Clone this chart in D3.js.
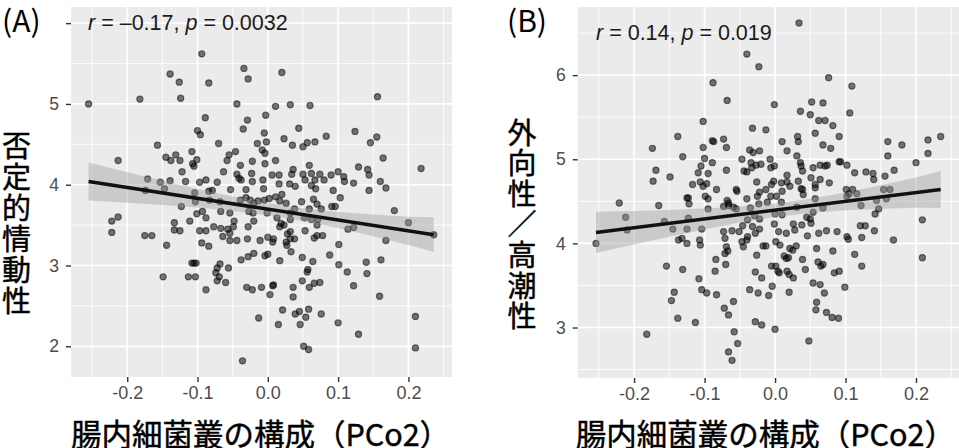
<!DOCTYPE html>
<html><head><meta charset="utf-8">
<script src="https://cdn.jsdelivr.net/npm/d3@7"></script>
<style>html,body{margin:0;padding:0;background:#fff;}svg{display:block;}</style>
</head><body><svg id="c" width="959" height="448"></svg>
<script>
// ---------- DATA ----------
const panelLabels = ["(A)", "(B)"];
const xTitle = "腸内細菌叢の構成（PCo2）";
const yTitleA = ["否","定","的","情","動","性"];
const yTitleB = ["外","向","性","／","高","潮","性"];
const statA = {r: "–0.17", p: "0.0032"};
const statB = {r: "0.14", p: "0.019"};
const xTicks = [-0.2, -0.1, 0, 0.1, 0.2];
const xTickLabels = ["-0.2", "-0.1", "0.0", "0.1", "0.2"];
const xMinor = [-0.25, -0.15, -0.05, 0.05, 0.15, 0.25];
const yTicksA = [2, 3, 4, 5, 6];
const yTickLabelsA = ["2", "3", "4", "5", ""];
const yMinorA = [2.5, 3.5, 4.5, 5.5];
const yTicksB = [3, 4, 5, 6];
const yTickLabelsB = ["3", "4", "5", "6"];
const yMinorB = [2.5, 3.5, 4.5, 5.5, 6.5];

const pointsA = [
[-0.094,5.62],[-0.139,5.37],[-0.126,5.27],[-0.084,5.26],[-0.124,5.07],[-0.182,5.06],[-0.255,5.00],[-0.034,5.44],
[-0.028,5.31],[0.020,5.39],[-0.044,5.00],[0.011,4.97],[0.032,4.99],[0.060,4.98],[0.156,5.09],[-0.089,4.83],
[-0.029,4.80],[-0.003,4.86],[-0.035,4.69],[-0.100,4.67],[-0.096,4.62],[-0.005,4.64],[0.044,4.70],[0.023,4.57],
[-0.002,4.53],[-0.015,4.51],[0.035,4.49],[0.050,4.47],[0.056,4.52],[0.067,4.53],[0.083,4.60],[0.124,4.66],
[0.155,4.59],[0.146,4.52],[0.164,4.33],[0.218,4.20],[-0.157,4.49],[-0.213,4.30],[-0.145,4.34],[-0.138,4.30],
[-0.131,4.37],[-0.125,4.30],[-0.108,4.41],[-0.101,4.31],[-0.107,4.26],[-0.105,4.23],[-0.122,4.16],[-0.139,4.05],
[-0.153,4.03],[-0.171,4.07],[-0.147,3.95],[-0.174,3.93],[-0.117,4.04],[-0.097,4.03],[-0.088,4.06],[-0.072,4.03],
[-0.063,4.16],[-0.058,4.30],[-0.055,4.37],[-0.046,4.41],[-0.039,4.24],[-0.022,4.29],[-0.004,4.39],[-0.004,4.26],
[0.011,4.30],[-0.070,4.51],[-0.044,4.13],[-0.041,4.08],[-0.038,4.06],[-0.023,4.14],[-0.022,4.04],[-0.007,4.06],
[0.006,4.12],[0.016,4.12],[0.016,4.01],[0.031,4.01],[0.034,4.13],[0.036,4.19],[0.050,4.13],[0.053,4.06],
[0.059,4.24],[0.062,4.14],[0.067,4.06],[0.068,3.95],[0.074,4.13],[0.080,4.06],[0.090,4.12],[0.100,4.16],
[0.108,4.10],[0.109,4.04],[0.122,4.02],[0.129,4.22],[0.142,4.19],[0.144,4.12],[0.144,3.93],[0.160,4.04],
[0.168,3.96],[0.180,3.68],[0.200,3.53],[0.093,3.93],[0.103,3.84],[-0.104,3.90],[-0.103,3.79],[-0.101,3.64],
[-0.093,3.67],[-0.084,3.92],[-0.083,3.81],[-0.068,3.79],[-0.067,3.67],[-0.054,3.65],[-0.053,3.94],[-0.039,3.81],
[-0.031,3.84],[-0.025,3.81],[-0.027,3.67],[-0.005,3.81],[0.002,3.83],[0.011,3.85],[0.017,3.80],[0.020,3.88],
[0.026,3.77],[0.013,3.59],[0.032,3.65],[0.038,3.70],[0.048,3.79],[0.052,3.59],[0.059,3.70],[0.070,3.76],
[0.076,3.70],[0.091,3.73],[0.096,3.73],[-0.213,3.60],[-0.222,3.55],[-0.133,3.53],[-0.111,3.55],[-0.079,3.93],
[-0.014,3.80],[-0.001,3.65],[0.071,3.57],[-0.020,3.55],[-0.048,3.55],[0.065,3.82],[0.032,3.57],[0.062,3.57],
[-0.123,3.73],[-0.088,3.59],[-0.020,3.77],[-0.021,3.65],[-0.222,3.41],[-0.175,3.37],[-0.165,3.37],[-0.144,3.25],
[-0.133,3.44],[-0.125,3.43],[-0.097,3.43],[-0.088,3.43],[-0.094,3.28],[-0.084,3.24],[-0.077,3.48],[-0.067,3.46],
[-0.064,3.36],[-0.054,3.31],[-0.044,3.31],[-0.049,3.48],[-0.028,3.48],[-0.029,3.33],[-0.011,3.31],[0.000,3.35],
[0.008,3.33],[0.007,3.29],[0.017,3.48],[0.028,3.39],[0.032,3.33],[0.027,3.25],[0.038,3.33],[0.033,3.17],
[0.053,3.43],[0.066,3.34],[0.070,3.50],[0.070,3.37],[0.078,3.37],[0.101,3.26],[0.114,3.45],[0.122,3.47],
[0.168,3.31],[-0.149,2.86],[-0.113,2.86],[-0.103,2.86],[-0.108,3.03],[-0.102,3.03],[-0.105,3.03],[-0.088,2.70],
[-0.074,2.91],[-0.068,3.02],[-0.069,2.86],[-0.072,2.81],[-0.060,2.79],[-0.056,2.97],[-0.038,3.07],[-0.028,3.11],
[-0.020,3.15],[-0.030,2.73],[-0.022,2.70],[-0.009,2.73],[-0.004,3.12],[0.003,2.64],[0.008,2.76],[0.007,2.75],
[0.017,3.06],[0.036,2.73],[0.036,2.61],[0.049,3.10],[0.056,2.92],[0.064,3.05],[0.049,2.81],[0.059,2.73],
[0.066,2.78],[0.074,2.79],[0.088,3.13],[0.101,3.01],[0.113,2.92],[0.122,2.75],[0.140,3.04],[0.141,2.90],
[0.161,3.07],[0.159,2.62],[-0.013,2.35],[0.015,2.27],[0.021,2.45],[0.039,2.40],[0.045,2.43],[0.046,2.27],
[0.054,2.36],[0.058,2.46],[0.076,2.40],[0.100,2.29],[0.129,2.15],[0.210,2.37],[0.210,1.98],[0.051,2.00],
[0.058,1.96],[-0.036,1.82],[-0.057,3.45],[-0.054,3.40],[-0.072,2.97],[0.023,3.50],[0.019,3.52],[0.032,3.42],
[0.026,3.29],[0.000,3.14],[0.057,2.95],[0.236,3.38],[-0.031,3.94],[-0.008,4.43],[0.039,3.98],[0.062,3.99],
[-0.006,3.95]
];

const pointsB = [
[0.034,6.62],[-0.040,6.25],[-0.023,6.10],[-0.088,5.91],[-0.068,5.70],[0.076,5.97],[0.109,5.87],[-0.001,5.65],
[0.052,5.68],[0.068,5.67],[0.036,5.57],[0.050,5.53],[0.106,5.55],[0.062,5.46],[0.071,5.46],[0.082,5.40],
[-0.102,5.45],[-0.032,5.37],[-0.013,5.35],[-0.138,5.27],[-0.073,5.24],[-0.089,5.22],[-0.087,5.21],[-0.069,5.14],
[-0.102,5.14],[-0.174,5.13],[0.032,5.27],[0.033,5.21],[0.057,5.31],[0.091,5.27],[0.010,5.21],[0.017,5.10],
[0.068,5.17],[0.079,5.13],[0.160,5.21],[0.180,5.17],[0.217,5.23],[0.235,5.27],[0.217,5.07],[0.160,5.04],
[0.200,4.96],[-0.036,5.11],[-0.031,5.08],[-0.022,5.10],[-0.047,5.00],[-0.034,4.96],[-0.027,4.93],[-0.020,4.94],
[-0.033,4.90],[-0.007,5.00],[-0.001,4.92],[-0.006,4.90],[-0.044,4.86],[-0.040,4.85],[0.031,5.04],[0.036,4.96],
[0.037,4.92],[0.039,4.86],[0.054,4.90],[0.064,4.93],[0.071,4.92],[0.074,4.93],[0.091,4.97],[0.093,4.97],
[0.102,4.93],[0.113,4.84],[0.129,4.85],[0.139,4.83],[0.140,4.76],[0.156,4.80],[0.169,4.87],[0.101,4.64],
[0.105,4.59],[0.110,4.64],[0.116,4.59],[0.102,4.56],[0.154,4.64],[0.163,4.64],[0.158,4.53],[0.144,4.51],
[0.147,4.41],[0.142,4.35],[0.209,4.28],[0.122,4.45],[-0.131,5.03],[-0.169,4.87],[-0.173,4.74],[-0.149,4.79],
[-0.221,4.48],[-0.212,4.31],[-0.165,4.45],[-0.117,4.70],[-0.106,4.73],[-0.102,4.68],[-0.097,4.71],[-0.109,4.84],
[-0.105,4.92],[-0.100,5.01],[-0.095,4.83],[-0.089,4.96],[-0.083,4.64],[-0.069,4.87],[-0.099,4.56],[-0.095,4.53],
[-0.125,4.54],[-0.123,4.54],[-0.122,4.47],[-0.095,4.41],[-0.068,4.51],[-0.066,4.48],[-0.055,4.64],[-0.054,4.62],
[-0.066,4.45],[-0.059,4.43],[-0.055,4.41],[-0.040,4.53],[-0.025,4.56],[-0.011,4.49],[-0.022,4.61],[-0.013,4.64],
[-0.006,4.56],[-0.002,4.74],[-0.005,4.70],[0.009,4.72],[0.010,4.62],[0.017,4.73],[0.021,4.68],[0.033,4.74],
[0.037,4.65],[0.039,4.64],[0.040,4.58],[0.051,4.78],[0.057,4.70],[0.057,4.66],[0.064,4.76],[0.077,4.72],
[0.057,4.53],[0.068,4.42],[0.054,4.37],[0.000,4.35],[0.010,4.34],[-0.029,4.33],[-0.022,4.29],[0.009,4.49],
[0.002,4.56],[0.045,4.31],[0.050,4.29],[0.031,4.43],[-0.254,4.00],[-0.154,3.73],[-0.131,3.69],[-0.138,3.11],
[-0.182,2.92],[-0.147,3.32],[-0.143,3.42],[-0.113,3.06],[-0.108,3.58],[-0.104,3.45],[-0.097,3.41],[-0.085,3.67],
[-0.084,3.81],[-0.083,3.39],[-0.070,3.75],[-0.071,3.88],[-0.067,3.91],[-0.072,3.23],[-0.059,3.31],[-0.066,3.15],
[-0.058,2.95],[-0.053,2.81],[-0.066,2.71],[-0.061,2.61],[-0.107,4.04],[-0.106,3.98],[-0.132,4.06],[-0.137,4.04],
[-0.125,4.00],[-0.071,4.06],[-0.073,4.14],[-0.061,4.15],[-0.069,3.96],[-0.051,4.14],[-0.047,4.02],[-0.045,3.96],
[-0.040,4.04],[-0.039,4.08],[-0.026,3.86],[-0.028,3.66],[-0.036,3.45],[-0.024,3.41],[-0.009,3.38],[-0.019,3.59],
[-0.017,3.97],[-0.013,3.97],[-0.028,4.12],[-0.022,4.17],[-0.032,4.20],[-0.004,3.49],[-0.028,3.07],[-0.019,3.03],
[0.000,2.98],[-0.005,3.73],[0.001,3.73],[0.006,3.65],[0.004,3.67],[0.001,4.02],[0.007,3.98],[-0.001,4.23],
[0.005,4.14],[0.016,4.12],[0.028,4.16],[0.026,4.23],[0.038,4.22],[0.051,4.24],[0.013,3.85],[0.019,3.83],
[0.016,3.82],[0.021,3.94],[0.025,3.92],[0.030,3.97],[0.017,3.67],[0.020,3.63],[0.026,3.59],[0.020,3.42],
[0.039,3.81],[0.043,3.69],[0.046,4.09],[0.062,4.12],[0.073,4.15],[0.088,4.14],[0.102,4.08],[0.104,4.05],
[0.123,4.07],[0.059,3.94],[0.061,3.78],[0.065,3.73],[0.068,3.75],[0.064,3.51],[0.070,3.41],[0.059,3.30],
[0.058,3.21],[0.054,3.53],[0.082,3.91],[0.084,3.65],[0.091,3.67],[0.073,3.18],[0.081,3.12],[0.090,3.11],
[0.099,3.48],[0.048,2.84],[0.113,3.87],[0.123,3.73],[0.128,4.21],[0.121,4.21],[0.141,4.15],[0.168,4.04],
[0.209,3.83],[-0.145,4.17],[-0.125,4.17],[-0.104,4.17],[-0.210,4.16],[-0.157,4.26],[-0.123,4.30],[-0.073,4.44],
[-0.035,4.42],[-0.023,4.47],[-0.046,4.21],[-0.039,4.28],[0.017,4.81],[-0.026,4.73]
];

// regression line end points and confidence band
const fitLineXA = [-0.255, 0.236];
const fitLineYA = [4.04, 3.38];
const bandXA = [-0.255,-0.2,-0.15,-0.1,-0.05,0,0.05,0.1,0.15,0.2,0.236];
const bandHiA = [4.275,4.156,4.049,3.947,3.855,3.773,3.710,3.663,3.631,3.604,3.596];
const bandLoA = [3.805,3.776,3.749,3.717,3.675,3.623,3.550,3.463,3.361,3.254,3.166];
const fitLineXB = [-0.254, 0.235];
const fitLineYB = [4.13, 4.64];
const bandXB = [-0.254,-0.2,-0.15,-0.1,-0.05,0,0.05,0.1,0.15,0.2,0.235];
const bandHiB = [4.375,4.386,4.398,4.416,4.438,4.475,4.532,4.604,4.691,4.784,4.860];
const bandLoB = [3.885,3.986,4.078,4.166,4.248,4.315,4.362,4.394,4.411,4.424,4.420];

// ---------- DRAW ----------
const svg = d3.select("#c");
const NUM_FONT = "'Liberation Sans', Arial, sans-serif";
const JP_FONT = "'Noto Sans CJK JP', sans-serif";

function panel(cfg) {
  const x = d3.scaleLinear().domain(cfg.xDom).range([cfg.left, cfg.right]);
  const y = d3.scaleLinear().domain(cfg.yDom).range([cfg.bottom, cfg.top]);
  const g = svg.append("g");
  g.append("rect").attr("x", cfg.left).attr("y", cfg.top)
    .attr("width", cfg.right - cfg.left).attr("height", cfg.bottom - cfg.top)
    .attr("fill", "#ebebeb");
  // minor grid
  g.selectAll(".vmin").data(xMinor).join("line")
    .attr("x1", d => x(d)).attr("x2", d => x(d)).attr("y1", cfg.top).attr("y2", cfg.bottom)
    .attr("stroke", "#fff").attr("stroke-width", 0.9);
  g.selectAll(".hmin").data(cfg.yMinor).join("line")
    .attr("y1", d => y(d)).attr("y2", d => y(d)).attr("x1", cfg.left).attr("x2", cfg.right)
    .attr("stroke", "#fff").attr("stroke-width", 0.9);
  // major grid
  g.selectAll(".vmaj").data(xTicks).join("line")
    .attr("x1", d => x(d)).attr("x2", d => x(d)).attr("y1", cfg.top).attr("y2", cfg.bottom)
    .attr("stroke", "#fff").attr("stroke-width", 1.7);
  g.selectAll(".hmaj").data(cfg.yTicks).join("line")
    .attr("y1", d => y(d)).attr("y2", d => y(d)).attr("x1", cfg.left).attr("x2", cfg.right)
    .attr("stroke", "#fff").attr("stroke-width", 1.7);

  // points
  g.append("g").selectAll("circle").data(cfg.points).join("circle")
    .attr("cx", d => x(d[0])).attr("cy", d => y(d[1])).attr("r", 3.1)
    .attr("fill", "#000").attr("fill-opacity", 0.52)
    .attr("stroke", "#000").attr("stroke-opacity", 0.5).attr("stroke-width", 1.2);

  // confidence band
  const band = cfg.bandX.map((bx, i) => ({x: bx, lo: cfg.bandLo[i], hi: cfg.bandHi[i]}));
  g.append("path").datum(band)
    .attr("d", d3.area().x(d => x(d.x)).y0(d => y(d.lo)).y1(d => y(d.hi)))
    .attr("fill", "#999").attr("fill-opacity", 0.4);
  // fit line
  const fl = cfg.lineX.map((lx, i) => [lx, cfg.lineY[i]]);
  g.append("path").datum(fl)
    .attr("d", d3.line().x(d => x(d[0])).y(d => y(d[1])))
    .attr("stroke", "#111").attr("stroke-width", 3.6).attr("fill", "none");

  // axes
  const ax = g.append("g").attr("transform", `translate(0,${cfg.bottom})`)
    .call(d3.axisBottom(x).tickValues(xTicks).tickSize(5).tickPadding(4)
      .tickFormat((d, i) => xTickLabels[i]));
  const ay = g.append("g").attr("transform", `translate(${cfg.left},0)`)
    .call(d3.axisLeft(y).tickValues(cfg.yTicks).tickSize(5).tickPadding(7)
      .tickFormat((d, i) => cfg.yTickLabels[i]));
  [ax, ay].forEach(a => {
    a.select(".domain").remove();
    a.selectAll(".tick line").attr("stroke", "#333").attr("stroke-width", 1.4);
    a.selectAll(".tick text").attr("fill", "#4d4d4d").attr("font-family", NUM_FONT);
  });
  ax.selectAll(".tick text").attr("font-size", 18);
  ay.selectAll(".tick text").attr("font-size", 17.5);

  // stat label
  const t = g.append("text").attr("x", cfg.statX).attr("y", cfg.statY)
    .attr("font-family", NUM_FONT).attr("font-size", 21.5).attr("fill", "#1a1a1a");
  t.append("tspan").attr("font-style", "italic").text("r");
  t.append("tspan").text(" = " + cfg.stat.r + ", ");
  t.append("tspan").attr("font-style", "italic").text("p");
  t.append("tspan").text(" = " + cfg.stat.p);

  // x title
  g.append("text").attr("x", (cfg.left + cfg.right) / 2 + cfg.xTitleDx).attr("y", 433)
    .attr("text-anchor", "middle").attr("dominant-baseline", "central")
    .attr("font-family", JP_FONT).attr("font-size", 30.5).attr("fill", "#000")
    .attr("stroke", "#000").attr("stroke-width", 0.45)
    .text(xTitle);
  // y title stacked
  g.selectAll(".yt").data(cfg.yTitle).join("text")
    .attr("x", cfg.yTitleX).attr("y", (d, i) => cfg.yTitleY0 + i * cfg.yTitleStep)
    .attr("text-anchor", "middle").attr("dominant-baseline", "central")
    .attr("font-family", JP_FONT).attr("font-size", 29).attr("fill", "#000")
    .attr("stroke", "#000").attr("stroke-width", 0.45)
    .text(d => d);
  // panel label
  g.append("text").attr("x", cfg.labX).attr("y", 19).attr("dominant-baseline", "central")
    .attr("font-family", JP_FONT).attr("font-size", 30).attr("fill", "#000")
    .text(cfg.label);
}

panel({left: 71, right: 452, top: 7, bottom: 377, xDom: [-0.28, 0.262], yDom: [1.62, 6.20],
  yTicks: yTicksA, yTickLabels: yTickLabelsA, yMinor: yMinorA, points: pointsA,
  bandX: bandXA, bandHi: bandHiA, bandLo: bandLoA, lineX: fitLineXA, lineY: fitLineYA,
  stat: statA, statX: 88, statY: 30, yTitle: yTitleA, yTitleX: 16.5, yTitleY0: 144, yTitleStep: 31,
  label: panelLabels[0], labX: 2, xTitleDx: -1});
panel({left: 577.7, right: 959, top: 7, bottom: 378, xDom: [-0.28, 0.261], yDom: [2.40, 6.81],
  yTicks: yTicksB, yTickLabels: yTickLabelsB, yMinor: yMinorB, points: pointsB,
  bandX: bandXB, bandHi: bandHiB, bandLo: bandLoB, lineX: fitLineXB, lineY: fitLineYB,
  stat: statB, statX: 596, statY: 40, yTitle: yTitleB, yTitleX: 522, yTitleY0: 130.5, yTitleStep: 30.6,
  label: panelLabels[1], labX: 507, xTitleDx: -3});
</script></body></html>
